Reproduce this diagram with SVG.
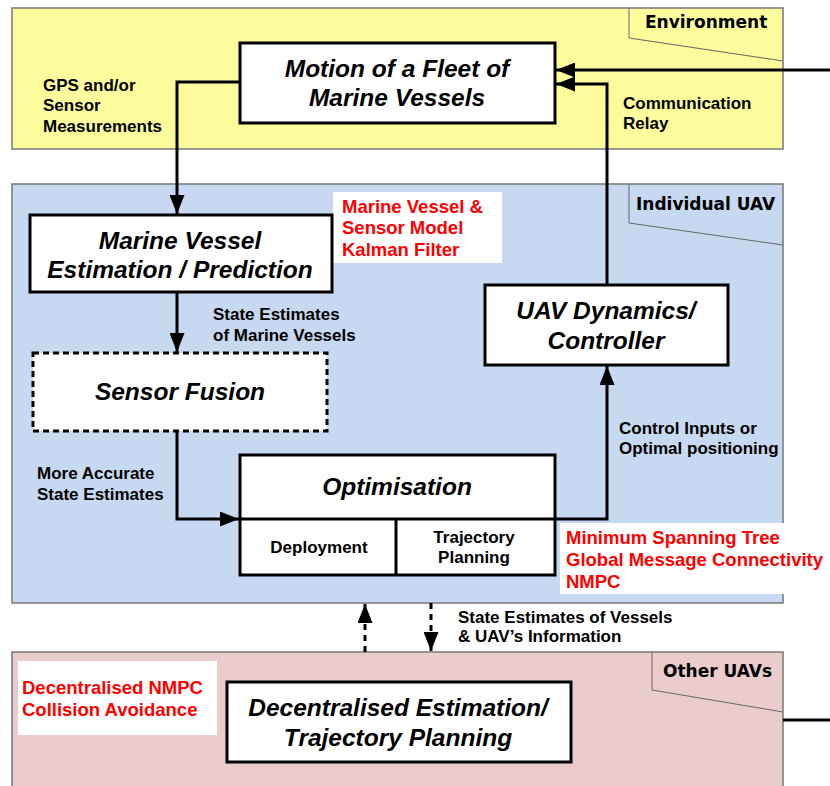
<svg xmlns="http://www.w3.org/2000/svg" width="830" height="786" viewBox="0 0 830 786">
<style>
.band{stroke:#777;stroke-width:1.5}
.tab{fill:none;stroke:#666;stroke-width:1}
.tabt{font-family:"DejaVu Sans",Verdana,sans-serif;font-weight:bold;font-size:17px;fill:#000}
.node{fill:#fff;stroke:#000;stroke-width:3}
.nt{font-family:"Liberation Sans",Arial,sans-serif;font-weight:bold;font-style:italic;font-size:24.5px;text-anchor:middle;fill:#000}
.lbl{font-family:"Liberation Sans",Arial,sans-serif;font-weight:bold;font-size:17px;fill:#000}
.red{font-family:"Liberation Sans",Arial,sans-serif;font-weight:bold;font-size:18.5px;fill:#f00}
.sub{font-family:"Liberation Sans",Arial,sans-serif;font-weight:bold;font-size:17px;text-anchor:middle;fill:#000}
.c{fill:none;stroke:#000;stroke-width:3}
.d{fill:none;stroke:#000;stroke-width:3;stroke-dasharray:6,5}
</style>
<defs>
<marker id="ah" viewBox="0 0 19 15" refX="19" refY="7.5" markerWidth="19" markerHeight="15" markerUnits="userSpaceOnUse" orient="auto">
<path d="M0,0 L19,7.5 L0,15 z" fill="#000"/>
</marker>
</defs>

<g id="band-environment">
<rect class="band" x="12" y="8" width="771" height="141" fill="#FCFC9C"/>
<path class="tab" d="M629,8 V38 L783,61"/>
<text class="tabt" x="645" y="28">Environment</text>
</g>
<g id="band-individual">
<rect class="band" x="12" y="184" width="771" height="419" fill="#C6D9F0"/>
<path class="tab" d="M629,184 V223 L783,245"/>
<text class="tabt" x="636" y="210">Individual UAV</text>
</g>
<g id="band-other">
<rect class="band" x="12" y="652" width="771" height="140" fill="#EBCCCC"/>
<path class="tab" d="M652,652 V690 L783,712"/>
<text class="tabt" x="663" y="677">Other UAVs</text>
</g>

<g id="note-kalman">
<rect x="333" y="192" width="169" height="71" fill="#fff"/>
<text class="red" x="342" y="213">Marine Vessel &amp;</text>
<text class="red" x="342" y="234">Sensor Model</text>
<text class="red" x="342" y="256">Kalman Filter</text>
</g>
<g id="note-mst">
<rect x="560" y="523" width="270" height="71" fill="#fff"/>
<text class="red" x="566" y="544">Minimum Spanning Tree</text>
<text class="red" x="566" y="566">Global Message Connectivity</text>
<text class="red" x="566" y="588">NMPC</text>
</g>
<g id="note-nmpc">
<rect x="18" y="661" width="199" height="74" fill="#fff"/>
<text class="red" x="22" y="694">Decentralised NMPC</text>
<text class="red" x="22" y="716">Collision Avoidance</text>
</g>

<g id="connectors">
<path class="c" d="M830,70 H556" marker-end="url(#ah)"/>
<path class="c" d="M607,285 V84 H556" marker-end="url(#ah)"/>
<path class="c" d="M240,82 H177 V214" marker-end="url(#ah)"/>
<path class="c" d="M177,292 V352" marker-end="url(#ah)"/>
<path class="c" d="M177,431 V519 H239" marker-end="url(#ah)"/>
<path class="c" d="M555,519 H607 V366" marker-end="url(#ah)"/>
<path class="d" d="M365,652 V604" marker-end="url(#ah)"/>
<path class="d" d="M431,603 V651" marker-end="url(#ah)"/>
<path class="c" d="M783,720 H830"/>
</g>

<g id="lbl-gps">
<text class="lbl" x="43" y="91">GPS and/or</text>
<text class="lbl" x="43" y="111">Sensor</text>
<text class="lbl" x="43" y="132">Measurements</text>
</g>
<g id="lbl-relay">
<text class="lbl" x="623" y="109">Communication</text>
<text class="lbl" x="623" y="129">Relay</text>
</g>
<g id="lbl-state">
<text class="lbl" x="213" y="320">State Estimates</text>
<text class="lbl" x="213" y="341">of Marine Vessels</text>
</g>
<g id="lbl-accurate">
<text class="lbl" x="37" y="479">More Accurate</text>
<text class="lbl" x="37" y="500">State Estimates</text>
</g>
<g id="lbl-control">
<text class="lbl" x="619" y="434">Control Inputs or</text>
<text class="lbl" x="619" y="454">Optimal positioning</text>
</g>
<g id="lbl-exchange">
<text class="lbl" x="458" y="623">State Estimates of Vessels</text>
<text class="lbl" x="458" y="642">&amp; UAV’s Information</text>
</g>

<g id="node-motion">
<rect class="node" x="240" y="43" width="315" height="80"/>
<text class="nt" x="397" y="77">Motion of a Fleet of</text>
<text class="nt" x="397" y="106">Marine Vessels</text>
</g>
<g id="node-estimation">
<rect class="node" x="30" y="215" width="302" height="77"/>
<text class="nt" x="180" y="249">Marine Vessel</text>
<text class="nt" x="180" y="278">Estimation / Prediction</text>
</g>
<g id="node-fusion">
<rect x="33" y="353" width="294" height="78" fill="#fff" stroke="#000" stroke-width="3" stroke-dasharray="6,4"/>
<text class="nt" x="180" y="400">Sensor Fusion</text>
</g>
<g id="node-uav">
<rect class="node" x="485" y="285" width="243" height="80"/>
<text class="nt" x="606" y="319">UAV Dynamics/</text>
<text class="nt" x="606" y="349">Controller</text>
</g>
<g id="node-optimisation">
<rect class="node" x="240" y="455" width="315" height="120"/>
<path class="c" d="M240,519 H555 M396,519 V575"/>
<text class="nt" x="397" y="495">Optimisation</text>
<text class="sub" x="319" y="553">Deployment</text>
<text class="sub" x="474" y="543">Trajectory</text>
<text class="sub" x="474" y="563">Planning</text>
</g>
<g id="node-decentralised">
<rect class="node" x="227" y="682" width="344" height="80"/>
<text class="nt" x="398" y="716">Decentralised Estimation/</text>
<text class="nt" x="398" y="746">Trajectory Planning</text>
</g>
</svg>
